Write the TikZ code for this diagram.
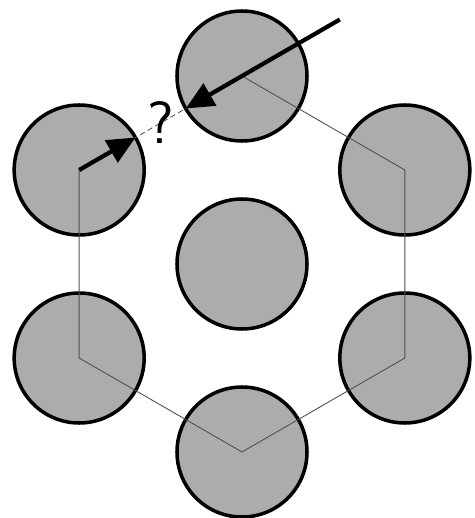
\documentclass[tikz,border=0pt]{standalone}
\usepackage{tikz}
\usetikzlibrary{arrows.meta,calc}
\definecolor{discfill}{RGB}{172,172,172}
\definecolor{linkcolor}{RGB}{80,80,80}

\begin{document}
\begin{tikzpicture}[
    disc/.style={circle, draw, line width=2pt, fill=discfill, minimum size=2.6cm, inner sep=0pt},
    link/.style={linkcolor, line width=0.5pt},
    jump/.style={line width=2.4pt, -{Triangle[length=0.56cm,width=0.5cm]}},
    qmark/.style={text=black, font=\fontsize{34}{34}\selectfont\sffamily, inner sep=0pt}
  ]
    \useasboundingbox (-4.84,-5.08) rectangle (4.66,5.28);
    \node[disc] (mid) at (0,0) {};
    \foreach \name/\ang in {top/90, ur/30, lr/-30, bot/-90, ll/-150, ul/150}{
      \node[disc] (\name) at (\ang:3.76) {};
    }
    % ring of links
    \draw[link] (top.center) -- (ur.center) -- (lr.center) -- (bot.center) -- (ll.center) -- (ul.center);
    \draw[link, densely dashed] (ul.center) -- node[qmark] (ask) {?} (top.center);
    % the two moves
    \coordinate (hit) at ($(ul.center)!1.3cm!(top.center)$);
    \coordinate (entry) at ($(top.center)!1.3cm!(ul.center)$);
    \coordinate (src) at ($(top.center)+(30:2.26)$);
    \draw[jump] (ul.center) -- (hit);
    \draw[jump] (src) -- (entry);
  \end{tikzpicture}
\end{document}
